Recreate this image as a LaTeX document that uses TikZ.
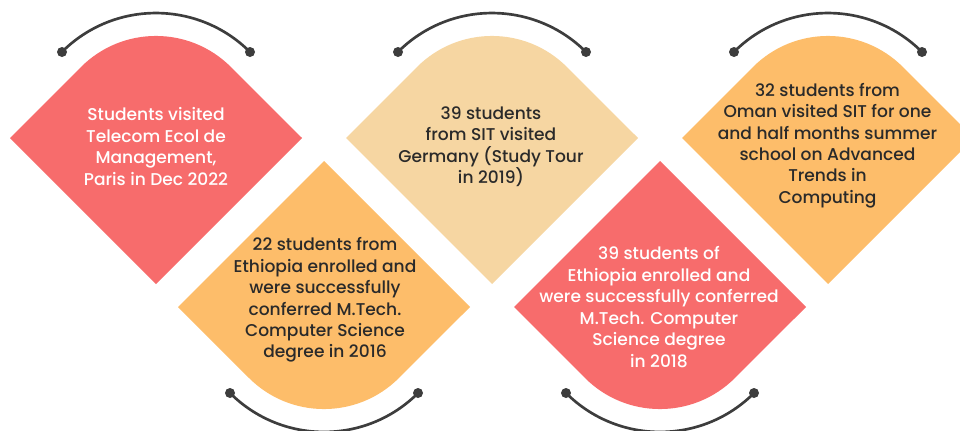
\documentclass[tikz,border=0pt]{standalone}
\usepackage{fontspec}
\setmainfont{Poppins Medium}
\usetikzlibrary{calc}
\definecolor{kitered}{HTML}{F76C6C}
\definecolor{kiteorange}{HTML}{FDBD6A}
\definecolor{kitetan}{HTML}{F6D6A2}
\definecolor{arcgray}{HTML}{3D3D3D}
\definecolor{textdark}{HTML}{2A2A2A}
\def\upkite[#1](#2){\fill[#1] ({#2-146},292) -- ({#2-75},363) arc (135:45:106) -- ({#2+146},292) -- (#2,146) -- cycle;}
\def\downkite[#1](#2){\fill[#1] ({#2-146},123) -- ({#2-75},52) arc (225:315:106) -- ({#2+146},123) -- (#2,269) -- cycle;}
\def\uparc(#1){\draw[line width=2pt, color=arcgray] ({#1+94},378) arc (45:135:133); \fill[arcgray] ({#1+94},378) circle (5) ({#1-94},378) circle (5);}
\def\downarc(#1){\draw[line width=2pt, color=arcgray] ({#1-94},37) arc (225:315:133); \fill[arcgray] ({#1+94},37) circle (5) ({#1-94},37) circle (5);}

\begin{document}
\begin{tikzpicture}[x=0.75pt, y=0.75pt,
		kitetext/.style={align=center, font=\fontsize{12.8}{16.1}\selectfont, text=textdark},
		redtext/.style={kitetext, text=white}]
			%%%%% START %%%%%
			
			\useasboundingbox (0,0) rectangle (960,430);
			\clip (0,0) rectangle (960,430);
			
			\upkite[kitered](156)
			\uparc(156)
			\node[redtext] (paris) at (156,283.5) {Students visited\\Telecom Ecol de\\Management,\\Paris in Dec 2022};
			
			\downkite[kiteorange](324)
			\downarc(324)
			\node[kitetext] (eth16) at (325,130) {22 students from\\Ethiopia enrolled and\\were successfully\\conferred M.Tech.\\Computer Science\\degree in 2016};
			
			\upkite[kitetan](492)
			\uparc(492)
			\node[kitetext] (germany) at (491,283.5) {39 students\\from SIT visited\\Germany (Study Tour\\in 2019)};
			
			\downkite[kitered](660)
			\downarc(660)
			\node[redtext] (eth18) at (659,123) {39 students of\\Ethiopia enrolled and\\were successfully conferred\\M.Tech. Computer\\Science degree\\in 2018};
			
			\upkite[kiteorange](828)
			\uparc(828)
			\node[kitetext] (oman) at (827.5,284.5) {32 students from\\Oman visited SIT for one\\and half months summer\\school on Advanced\\Trends in\\Computing};
			
			%%%%% END %%%%%
		\end{tikzpicture}
\end{document}
